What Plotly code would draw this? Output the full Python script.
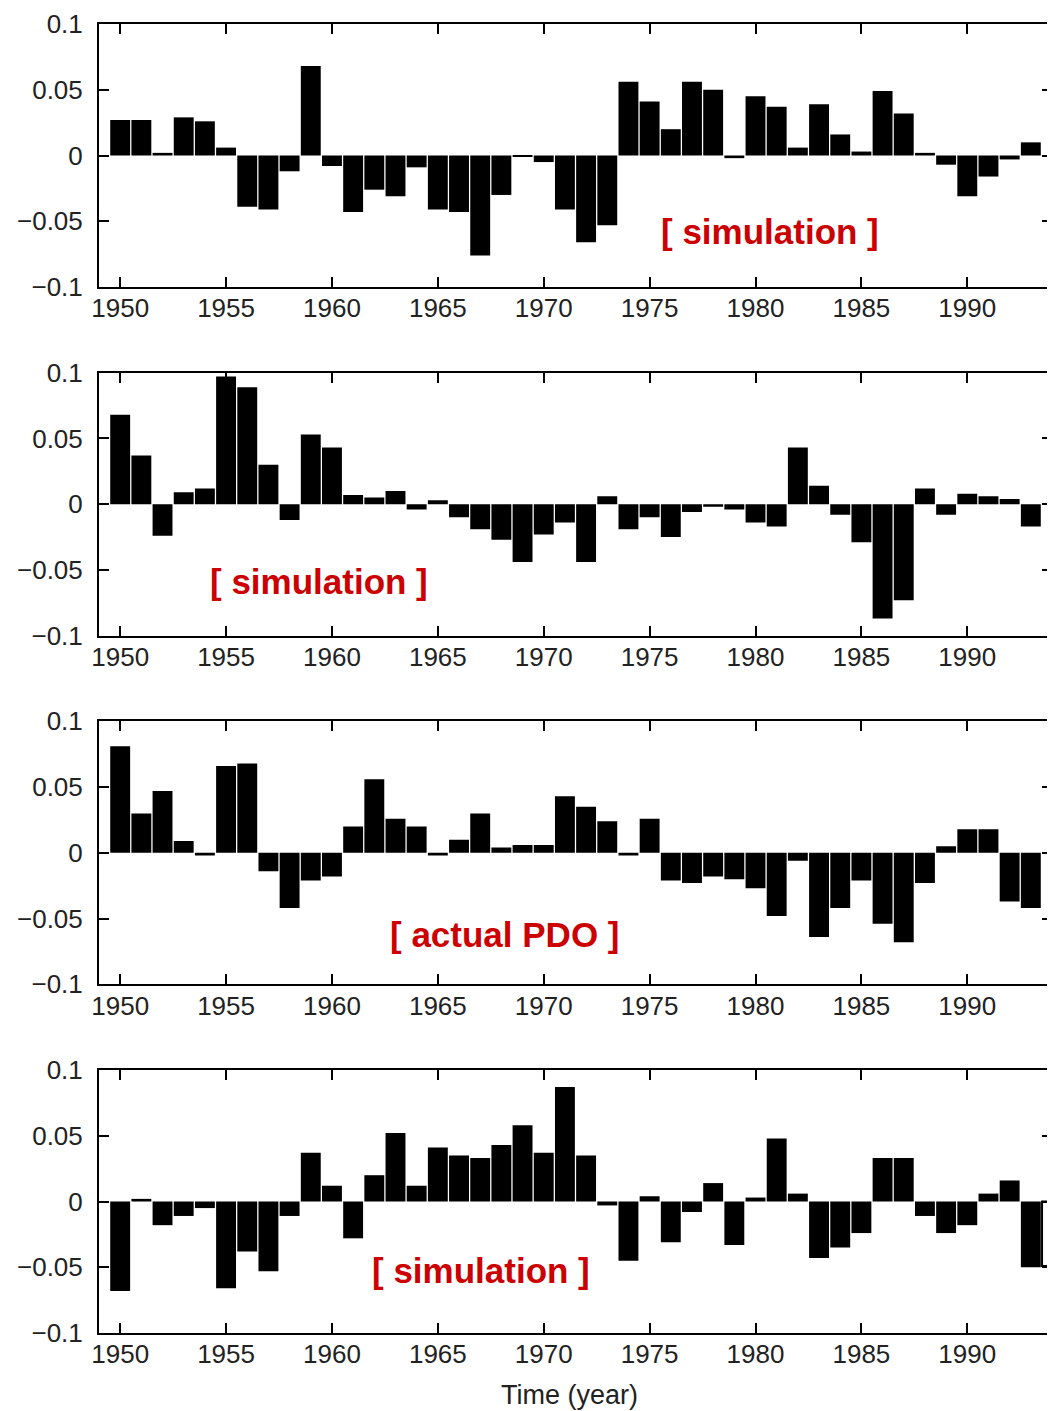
import plotly.graph_objects as go

# ---------------- data ----------------
years = list(range(1950, 1994))

sim_a = [0.027, 0.027, 0.002, 0.029, 0.026, 0.006, -0.039, -0.041, -0.012, 0.068,
         -0.008, -0.043, -0.026, -0.031, -0.009, -0.041, -0.043, -0.076, -0.030, -0.001,
         -0.005, -0.041, -0.066, -0.053, 0.056, 0.041, 0.020, 0.056, 0.050, -0.002,
         0.045, 0.037, 0.006, 0.039, 0.016, 0.003, 0.049, 0.032, 0.002, -0.007,
         -0.031, -0.016, -0.003, 0.010]

sim_b = [0.068, 0.037, -0.024, 0.009, 0.012, 0.097, 0.089, 0.030, -0.012, 0.053,
         0.043, 0.007, 0.005, 0.010, -0.004, 0.003, -0.010, -0.019, -0.027, -0.044,
         -0.023, -0.014, -0.044, 0.006, -0.019, -0.010, -0.025, -0.006, -0.002, -0.004,
         -0.014, -0.017, 0.043, 0.014, -0.008, -0.029, -0.087, -0.073, 0.012, -0.008,
         0.008, 0.006, 0.004, -0.017]

actual_pdo = [0.081, 0.030, 0.047, 0.009, -0.002, 0.066, 0.068, -0.014, -0.042, -0.021,
              -0.018, 0.020, 0.056, 0.026, 0.020, -0.002, 0.010, 0.030, 0.004, 0.006,
              0.006, 0.043, 0.035, 0.024, -0.002, 0.026, -0.021, -0.023, -0.018, -0.020,
              -0.027, -0.048, -0.006, -0.064, -0.042, -0.021, -0.054, -0.068, -0.023, 0.005,
              0.018, 0.018, -0.037, -0.042]

sim_c = [-0.068, 0.002, -0.018, -0.011, -0.005, -0.066, -0.038, -0.053, -0.011, 0.037,
         0.012, -0.028, 0.020, 0.052, 0.012, 0.041, 0.035, 0.033, 0.043, 0.058,
         0.037, 0.087, 0.035, -0.003, -0.045, 0.004, -0.031, -0.008, 0.014, -0.033,
         0.003, 0.048, 0.006, -0.043, -0.035, -0.024, 0.033, 0.033, -0.011, -0.024,
         -0.018, 0.006, 0.016, -0.050]
# partially visible (clipped, outlined) bar at the right edge of the last panel
extra_year = 1994
extra_value = -0.049

panels = [
    (years, sim_a, "[ simulation ]", 1980.7, -0.0575),
    (years, sim_b, "[ simulation ]", 1959.4, -0.059),
    (years, actual_pdo, "[ actual PDO ]", 1968.15, -0.062),
    (years + [extra_year], sim_c + [extra_value], "[ simulation ]", 1967.05, -0.0525),
]

y_tickvals = [-0.1, -0.05, 0, 0.05, 0.1]
y_ticktext = ["\u22120.1", "\u22120.05", "0", "0.05", "0.1"]
x_tickvals = list(range(1950, 1991, 5))

# ---------------- layout geometry ----------------
# the page body has an 8px margin, so the figure is placed 8px in from the corner
OFF = 8
W, H = 1055 - OFF, 1411 - OFF
m_l, m_r, m_t = 99 - OFF, 1, 19 - OFF
plot_bottom_page = 1333
m_b = (OFF + H) - plot_bottom_page
plot_h = H - m_t - m_b

def frac(page_px):
    return (plot_bottom_page - page_px) / plot_h

FONT = "Liberation Sans, Arial, Helvetica, sans-serif"
tick_font = dict(family=FONT, size=26, color="#222222")

fig = go.Figure()
layout_axes = {}
annotations = []

for i, (xs, vals, label, lx, ly) in enumerate(panels):
    n = i + 1
    xa = "x" if n == 1 else f"x{n}"
    ya = "y" if n == 1 else f"y{n}"
    colors = ["black"] * len(years) + ["white"] * (len(xs) - len(years))
    line_w = [0] * len(years) + [2] * (len(xs) - len(years))
    fig.add_trace(go.Bar(
        x=xs, y=vals, xaxis=xa, yaxis=ya,
        marker=dict(color=colors, line=dict(color="black", width=line_w)),
        hoverinfo="x+y", showlegend=False,
    ))
    top_px = 19 + 350 * i
    bot_px = 283 + 350 * i
    dom = [frac(bot_px), frac(top_px)]
    xkey = "xaxis" if n == 1 else f"xaxis{n}"
    ykey = "yaxis" if n == 1 else f"yaxis{n}"
    layout_axes[xkey] = dict(
        domain=[0, 1], anchor=ya, range=[1949, 1994],
        tickmode="array", tickvals=x_tickvals, ticktext=[str(v) for v in x_tickvals],
        ticks="inside", ticklen=10, tickwidth=2, tickcolor="black",
        showline=True, linewidth=2, linecolor="black", mirror="ticks",
        showgrid=False, zeroline=False, tickfont=tick_font,
        ticklabelstandoff=-3,
    )
    layout_axes[ykey] = dict(
        domain=dom, anchor=xa, range=[-0.1, 0.1],
        tickmode="array", tickvals=y_tickvals, ticktext=y_ticktext,
        ticks="inside", ticklen=10, tickwidth=2, tickcolor="black",
        showline=True, linewidth=2, linecolor="black", mirror="ticks",
        showgrid=False, zeroline=False, tickfont=tick_font,
        ticklabelstandoff=9,
    )
    annotations.append(dict(
        x=lx, y=ly, xref=xa, yref=ya, text=label, showarrow=False,
        xanchor="center", yanchor="middle",
        font=dict(family=FONT, size=35, color="#cc0000", weight="bold"),
    ))

annotations.append(dict(
    x=1971.2, y=frac(1395), xref="x4", yref="paper", text="Time (year)",
    showarrow=False, xanchor="center", yanchor="middle",
    font=dict(family=FONT, size=27, color="#222222"),
))

fig.update_layout(
    width=W, height=H,
    margin=dict(l=m_l, r=m_r, t=m_t, b=m_b, pad=0),
    paper_bgcolor="white", plot_bgcolor="white",
    bargap=0.06, showlegend=False,
    annotations=annotations,
    **layout_axes,
)

fig.write_html("out.html")
